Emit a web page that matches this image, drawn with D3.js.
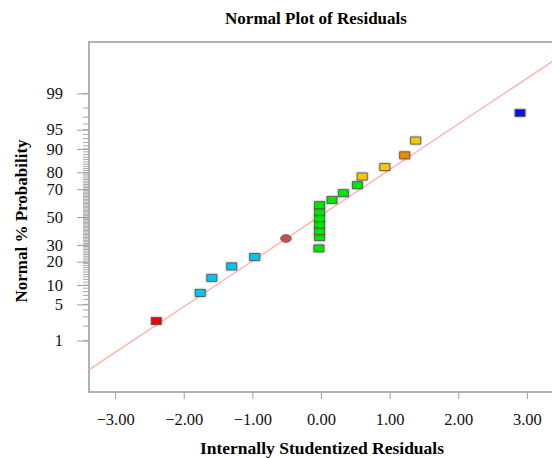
<!DOCTYPE html>
<html>
<head>
<meta charset="utf-8">
<script src="https://cdn.jsdelivr.net/npm/d3@7"></script>
<style>
  body { margin: 0; background: #fff; }
  text { font-family: 'Liberation Serif', 'Times New Roman', serif; }
</style>
</head>
<body>
<svg class="entry-point"></svg>
<script>
/* data */
const residuals = [-2.40, -1.76, -1.59, -1.30, -0.965, -0.03, -0.51,
  -0.02, -0.02, -0.02, -0.02, -0.02, -0.02,
  0.16, 0.325, 0.53, 0.60, 0.93, 1.22, 1.38, 2.90]
const probs = [2.5, 7.6, 12.6, 17.6, 22.6, 27.7, 34.3,
  35.2, 39.7, 44.5, 49.2, 54.1, 58.8,
  62.6, 67.3, 72.5, 77.7, 82.6, 87.7, 92.5, 97.5]
const groups = ['r', 'c', 'c', 'c', 'c', 'g', 'b',
  'g', 'g', 'g', 'g', 'g', 'g',
  'g', 'g', 'g', 'y', 'y', 'o', 'y', 'u']
const xTicks = [-3, -2, -1, 0, 1, 2, 3]
const yTicks = [1, 5, 10, 20, 30, 50, 70, 80, 90, 95, 99]
const yMinor = d3.range(1, 100)
const lineSlope = 0.86, lineIntercept = 0.03

/* inverse normal cdf (Acklam) */
function probit (p) {
  const a = [-39.6968302866538, 220.946098424521, -275.928510446969, 138.357751867269, -30.6647980661472, 2.50662827745924]
  const b = [-54.4760987982241, 161.585836858041, -155.698979859887, 66.8013118877197, -13.2806815528857]
  const c = [-0.00778489400243029, -0.322396458041136, -2.40075827716184, -2.54973253934373, 4.37466414146497, 2.93816398269878]
  const d = [0.00778469570904146, 0.32246712907004, 2.445134137143, 3.75440866190742]
  const pl = 0.02425
  let q, r
  if (p < pl) {
    q = Math.sqrt(-2 * Math.log(p))
    return (((((c[0] * q + c[1]) * q + c[2]) * q + c[3]) * q + c[4]) * q + c[5]) / ((((d[0] * q + d[1]) * q + d[2]) * q + d[3]) * q + 1)
  }
  if (p > 1 - pl) return -probit(1 - p)
  q = p - 0.5; r = q * q
  return (((((a[0] * r + a[1]) * r + a[2]) * r + a[3]) * r + a[4]) * r + a[5]) * q / (((((b[0] * r + b[1]) * r + b[2]) * r + b[3]) * r + b[4]) * r + 1)
}

const W = 552, H = 458
const pL = 89, pR = 553, pT = 42, pB = 392

const x = d3.scaleLinear().domain([-3.38, 3.38]).range([pL, pR])
const z = d3.scaleLinear().domain([-3.295, 3.295]).range([pB, pT])
const y = p => z(probit(p / 100))
const color = d3.scaleOrdinal()
  .domain(['r', 'c', 'b', 'g', 'y', 'o', 'u'])
  .range(['#f00000', '#00c4f4', '#c0504d', '#00e600', '#f5c800', '#f08a00', '#0a14e6'])

const root = d3.select('.entry-point')
  .attr('width', W)
  .attr('height', H)

root.append('defs').append('clipPath').attr('id', 'clip')
  .append('rect').attr('x', pL).attr('y', pT)
  .attr('width', pR - pL).attr('height', pB - pT)

// frame
root.append('rect')
  .attr('x', pL).attr('y', pT)
  .attr('width', pR - pL).attr('height', pB - pT)
  .attr('fill', '#fff').attr('stroke', '#a0a0a0').attr('stroke-width', 1.6)

// x axis
const gx = root.append('g')
  .attr('transform', `translate(0,${pB})`)
  .call(d3.axisBottom(x).tickValues(xTicks).tickFormat(d3.format('.2f'))
    .tickSize(7).tickSizeOuter(0).tickPadding(14))
gx.select('.domain').remove()
gx.selectAll('line').attr('stroke', '#a0a0a0')
gx.selectAll('text').attr('font-size', '16.5px').attr('fill', '#111')
  .attr('font-family', "'Liberation Serif', serif")

// y axis, minor ticks every percent
root.append('g').selectAll('line')
  .data(yMinor).enter().append('line')
  .attr('x1', pL - 6).attr('x2', pL)
  .attr('y1', y).attr('y2', y)
  .attr('stroke', '#a8a8a8').attr('stroke-width', 1)

const gy = root.append('g')
  .attr('transform', `translate(${pL},0)`)
  .call(d3.axisLeft(z).tickValues(yTicks.map(p => probit(p / 100)))
    .tickFormat((d, i) => yTicks[i]).tickSize(12).tickSizeOuter(0).tickPadding(14))
gy.select('.domain').remove()
gy.selectAll('line').attr('stroke', '#a0a0a0')
gy.selectAll('text').attr('font-size', '16.5px').attr('fill', '#111')
  .attr('font-family', "'Liberation Serif', serif")

// reference line
root.append('line')
  .attr('clip-path', 'url(#clip)')
  .attr('x1', x(-3.38)).attr('y1', z(lineSlope * -3.38 + lineIntercept))
  .attr('x2', x(3.38)).attr('y2', z(lineSlope * 3.38 + lineIntercept))
  .attr('stroke', '#ffb8b8').attr('stroke-width', 1.6)

// points
const pts = residuals.map((r, i) => ({ r, p: probs[i], g: groups[i] }))
const marks = root.append('g')
marks.selectAll('rect')
  .data(pts.filter(d => d.g !== 'b')).enter().append('rect')
  .attr('x', d => x(d.r) - 5).attr('y', d => y(d.p) - 3.5)
  .attr('width', 10).attr('height', 7)
  .attr('fill', d => color(d.g))
  .attr('stroke', '#555').attr('stroke-width', 0.8)
  .style('filter', 'drop-shadow(0 0 0.8px rgba(0,0,0,0.45))')
marks.selectAll('ellipse')
  .data(pts.filter(d => d.g === 'b')).enter().append('ellipse')
  .attr('cx', d => x(d.r)).attr('cy', d => y(d.p))
  .attr('rx', 5.5).attr('ry', 4)
  .attr('fill', d => color(d.g))
  .attr('stroke', '#777').attr('stroke-width', 0.8)

// titles
root.append('text')
  .attr('x', 316).attr('y', 24)
  .attr('text-anchor', 'middle')
  .attr('font-size', '17px').attr('font-weight', 'bold')
  .text('Normal Plot of Residuals')
root.append('text')
  .attr('x', 322).attr('y', 454)
  .attr('text-anchor', 'middle')
  .attr('font-size', '17.5px').attr('font-weight', 'bold')
  .text('Internally Studentized Residuals')
root.append('text')
  .attr('transform', 'translate(27,221) rotate(-90)')
  .attr('text-anchor', 'middle')
  .attr('font-size', '17px').attr('font-weight', 'bold')
  .text('Normal % Probability')
</script>
</body>
</html>
